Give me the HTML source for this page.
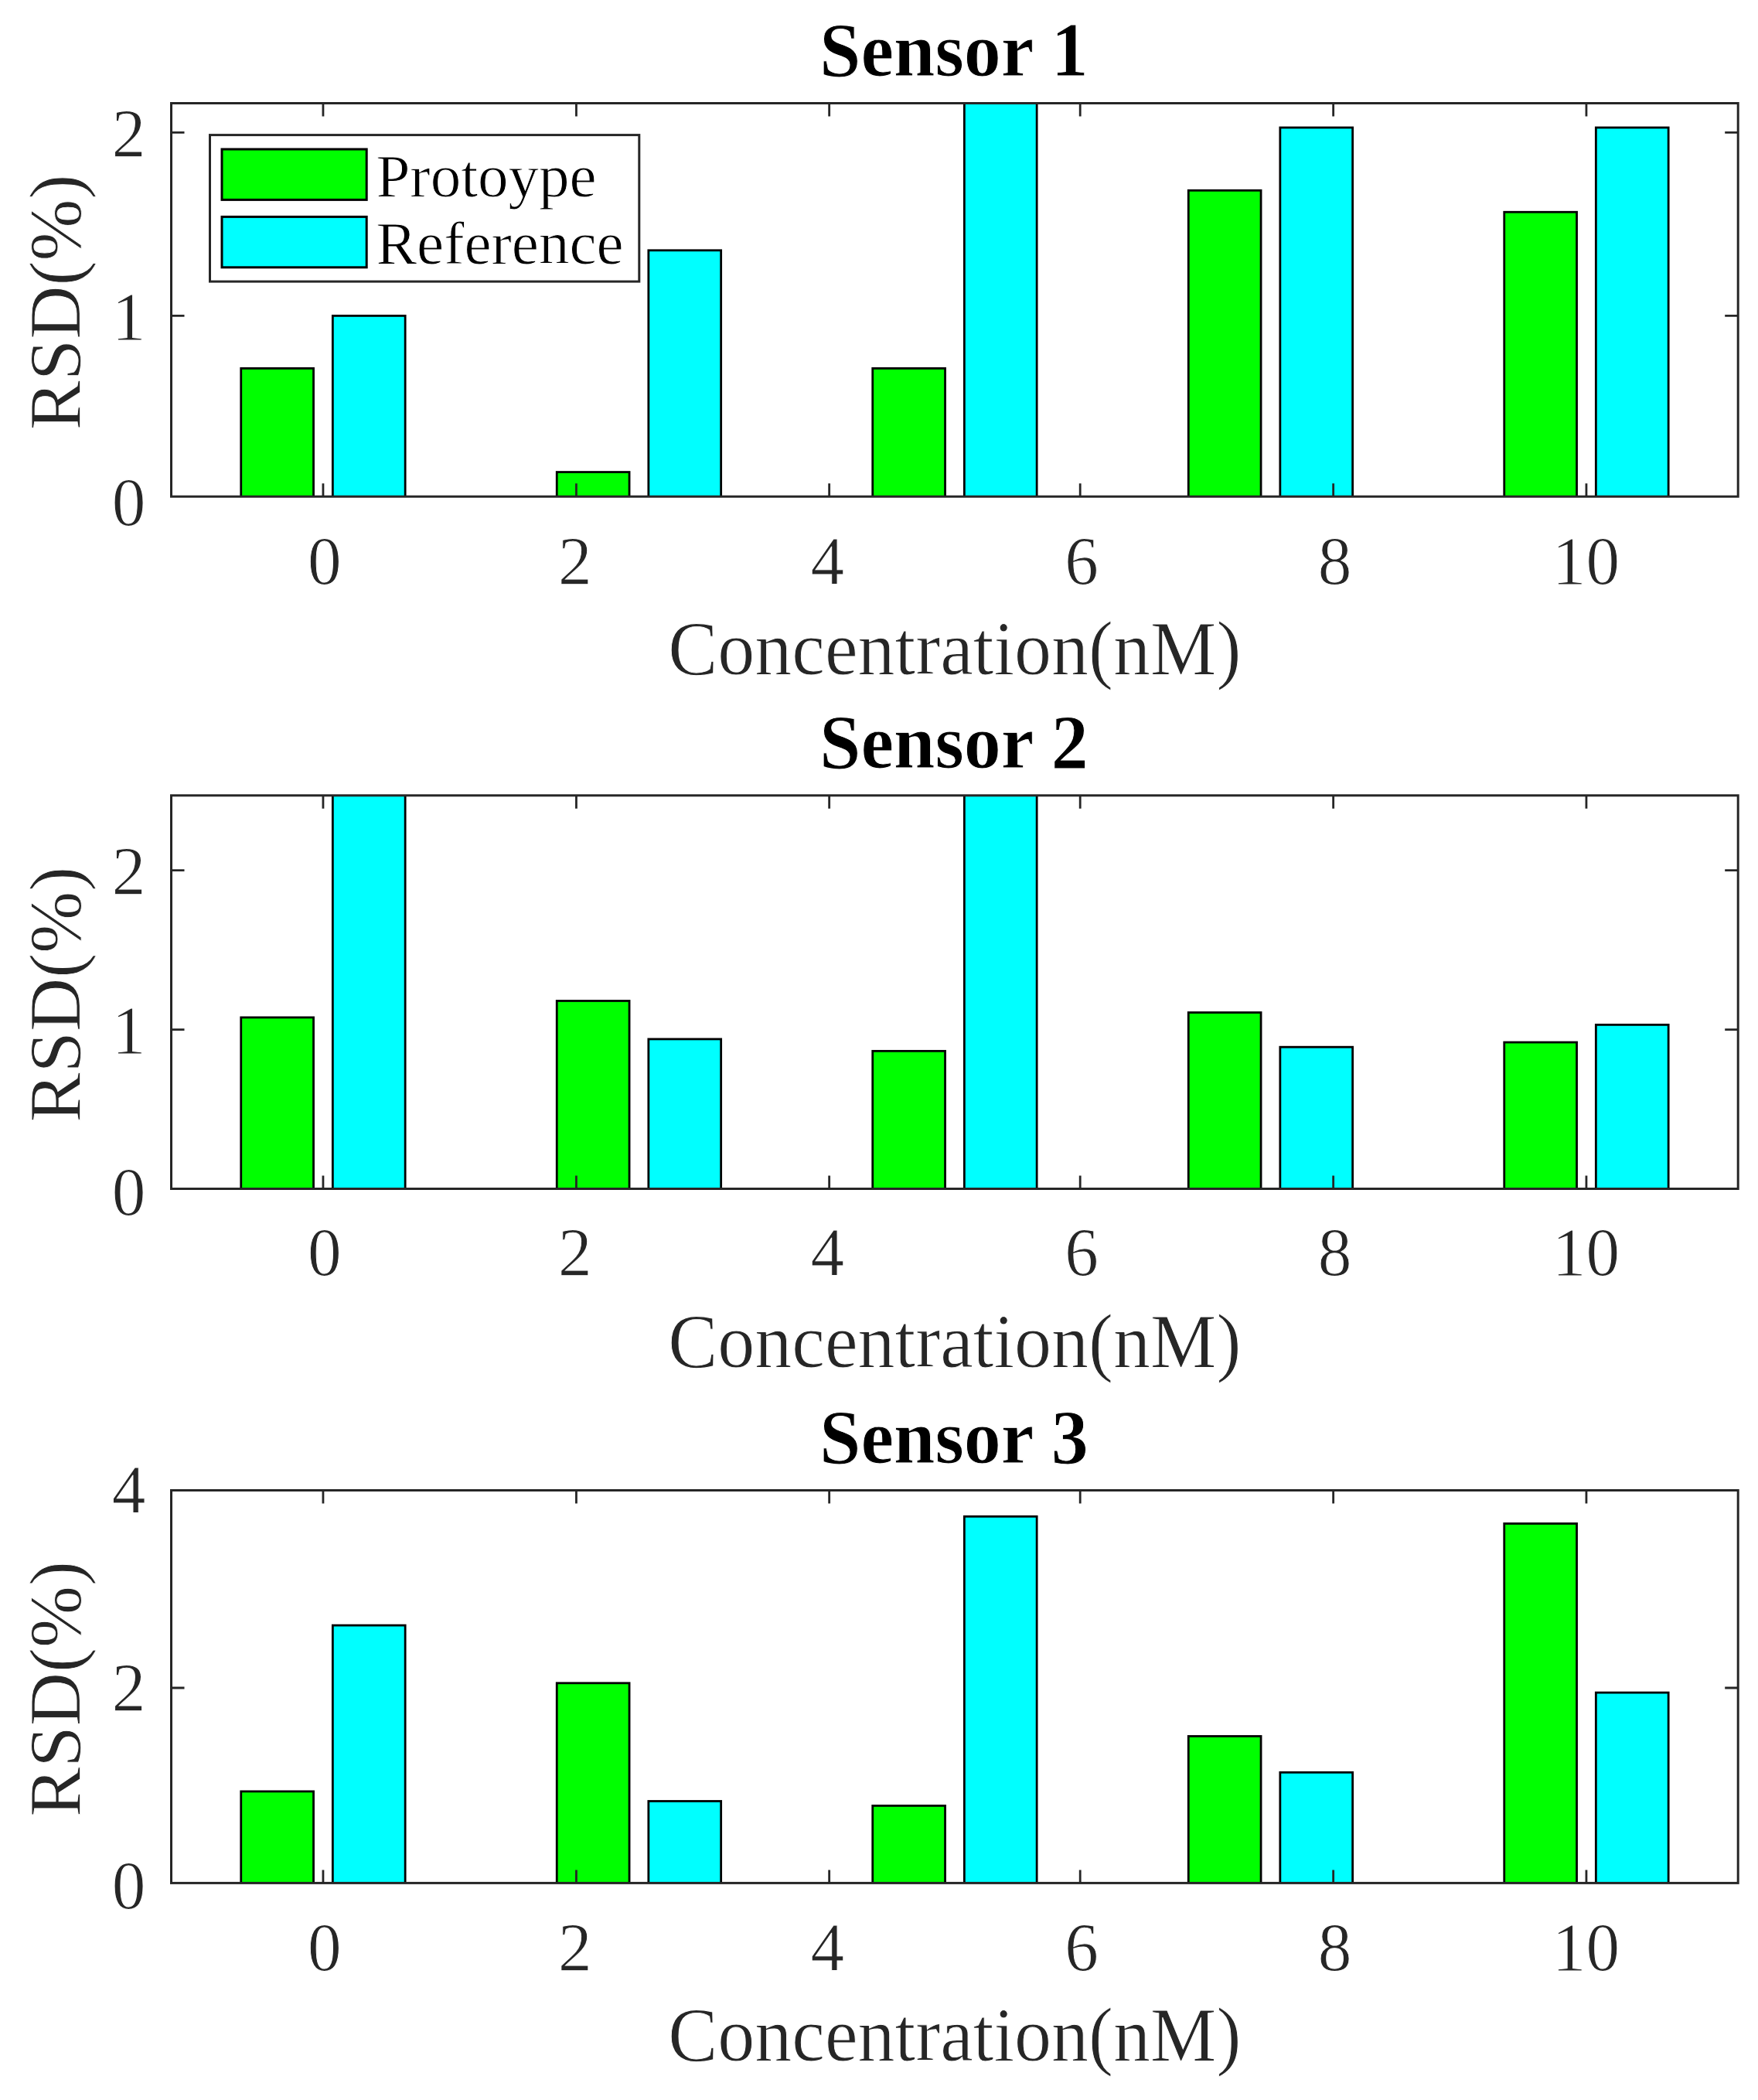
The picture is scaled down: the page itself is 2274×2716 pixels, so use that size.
<!DOCTYPE html>
<html lang="en"><head><meta charset="utf-8"><title>RSD by sensor</title>
<style>
html,body{margin:0;padding:0;background:#fff}
body{width:2274px;height:2716px;overflow:hidden}
svg{display:block}
text{font-family:"Liberation Serif","Times New Roman",Times,serif;fill:#262626;stroke:#fff;stroke-width:0.9px}
.t{font-size:87.3px}
.l{font-size:96px}
.h{font-size:96px;font-weight:bold;fill:#000}
.g{font-size:79px;fill:#000}
</style></head><body>
<svg width="2274" height="2716" viewBox="0 0 2274 2716">
<rect width="2274" height="2716" fill="#fff"/>
<g>
<clipPath id="cp0"><rect x="221.5" y="133.5" width="2026.7" height="508.7"/></clipPath>
<g clip-path="url(#cp0)" stroke="#000" stroke-width="2.8">
<rect x="311.75" y="476.42" width="93.8" height="175.78" fill="#00ff00"/>
<rect x="430.35" y="408.4" width="93.8" height="243.8" fill="#00ffff"/>
<rect x="720.25" y="610.56" width="93.8" height="41.64" fill="#00ff00"/>
<rect x="838.85" y="323.79" width="93.8" height="328.41" fill="#00ffff"/>
<rect x="1128.75" y="476.42" width="93.8" height="175.78" fill="#00ff00"/>
<rect x="1247.35" y="-65.6" width="93.8" height="717.8" fill="#00ffff"/>
<rect x="1537.25" y="246.29" width="93.8" height="405.91" fill="#00ff00"/>
<rect x="1655.85" y="165" width="93.8" height="487.2" fill="#00ffff"/>
<rect x="1945.75" y="274.26" width="93.8" height="377.94" fill="#00ff00"/>
<rect x="2064.35" y="165" width="93.8" height="487.2" fill="#00ffff"/>
</g>
<path d="M417.95 642.2v-17M417.95 133.5v17M745.45 642.2v-17M745.45 133.5v17M1072.65 642.2v-17M1072.65 133.5v17M1397.2 642.2v-17M1397.2 133.5v17M1724.65 642.2v-17M1724.65 133.5v17M2051.95 642.2v-17M2051.95 133.5v17M221.5 408.4h17M2248.2 408.4h-17M221.5 171.4h17M2248.2 171.4h-17" stroke="#262626" stroke-width="2.8" fill="none"/>
<rect x="221.5" y="133.5" width="2026.7" height="508.7" fill="none" stroke="#262626" stroke-width="3"/>
<text class="h" transform="translate(1233.85 97.5) scale(1 1.03)" text-anchor="middle">Sensor 1</text>
<text class="t" transform="translate(419.95 755) scale(1 1.03)" text-anchor="middle">0</text>
<text class="t" transform="translate(743.75 755) scale(1 1.03)" text-anchor="middle">2</text>
<text class="t" transform="translate(1070.25 755) scale(1 1.03)" text-anchor="middle">4</text>
<text class="t" transform="translate(1399.15 755) scale(1 1.03)" text-anchor="middle">6</text>
<text class="t" transform="translate(1726.65 755) scale(1 1.03)" text-anchor="middle">8</text>
<text class="t" transform="translate(2051.45 755) scale(1 1.03)" text-anchor="middle">10</text>
<text class="t" transform="translate(188.5 678.5) scale(1 1.03)" text-anchor="end">0</text>
<text class="t" transform="translate(188.5 439) scale(1 1.03)" text-anchor="end">1</text>
<text class="t" transform="translate(188.5 202) scale(1 1.03)" text-anchor="end">2</text>
<text class="l" transform="translate(1234.85 872.2) scale(1 1.03)" text-anchor="middle">Concentration(nM)</text>
<text class="l" transform="translate(104 390.85) rotate(-90)" text-anchor="middle">RSD(%)</text>
</g>
<g>
<clipPath id="cp1"><rect x="221.5" y="1028.8" width="2026.7" height="508.7"/></clipPath>
<g clip-path="url(#cp1)" stroke="#000" stroke-width="2.8">
<rect x="311.75" y="1315.9" width="93.8" height="231.6" fill="#00ff00"/>
<rect x="430.35" y="919.65" width="93.8" height="627.85" fill="#00ffff"/>
<rect x="720.25" y="1294.48" width="93.8" height="253.02" fill="#00ff00"/>
<rect x="838.85" y="1343.91" width="93.8" height="203.59" fill="#00ffff"/>
<rect x="1128.75" y="1359.35" width="93.8" height="188.15" fill="#00ff00"/>
<rect x="1247.35" y="919.65" width="93.8" height="627.85" fill="#00ffff"/>
<rect x="1537.25" y="1309.51" width="93.8" height="237.99" fill="#00ff00"/>
<rect x="1655.85" y="1354.2" width="93.8" height="193.3" fill="#00ffff"/>
<rect x="1945.75" y="1348.03" width="93.8" height="199.47" fill="#00ff00"/>
<rect x="2064.35" y="1325.37" width="93.8" height="222.13" fill="#00ffff"/>
</g>
<path d="M417.95 1537.5v-17M417.95 1028.8v17M745.45 1537.5v-17M745.45 1028.8v17M1072.65 1537.5v-17M1072.65 1028.8v17M1397.2 1537.5v-17M1397.2 1028.8v17M1724.65 1537.5v-17M1724.65 1028.8v17M2051.95 1537.5v-17M2051.95 1028.8v17M221.5 1331.55h17M2248.2 1331.55h-17M221.5 1125.6h17M2248.2 1125.6h-17" stroke="#262626" stroke-width="2.8" fill="none"/>
<rect x="221.5" y="1028.8" width="2026.7" height="508.7" fill="none" stroke="#262626" stroke-width="3"/>
<text class="h" transform="translate(1233.85 992.8) scale(1 1.03)" text-anchor="middle">Sensor 2</text>
<text class="t" transform="translate(419.95 1648.8) scale(1 1.03)" text-anchor="middle">0</text>
<text class="t" transform="translate(743.75 1648.8) scale(1 1.03)" text-anchor="middle">2</text>
<text class="t" transform="translate(1070.25 1648.8) scale(1 1.03)" text-anchor="middle">4</text>
<text class="t" transform="translate(1399.15 1648.8) scale(1 1.03)" text-anchor="middle">6</text>
<text class="t" transform="translate(1726.65 1648.8) scale(1 1.03)" text-anchor="middle">8</text>
<text class="t" transform="translate(2051.45 1648.8) scale(1 1.03)" text-anchor="middle">10</text>
<text class="t" transform="translate(188.5 1570.6) scale(1 1.03)" text-anchor="end">0</text>
<text class="t" transform="translate(188.5 1362.15) scale(1 1.03)" text-anchor="end">1</text>
<text class="t" transform="translate(188.5 1156.2) scale(1 1.03)" text-anchor="end">2</text>
<text class="l" transform="translate(1234.85 1767.5) scale(1 1.03)" text-anchor="middle">Concentration(nM)</text>
<text class="l" transform="translate(104 1286.15) rotate(-90)" text-anchor="middle">RSD(%)</text>
</g>
<g>
<clipPath id="cp2"><rect x="221.5" y="1927.5" width="2026.7" height="507.9"/></clipPath>
<g clip-path="url(#cp2)" stroke="#000" stroke-width="2.8">
<rect x="311.75" y="2316.9" width="93.8" height="128.5" fill="#00ff00"/>
<rect x="430.35" y="2102.1" width="93.8" height="343.3" fill="#00ffff"/>
<rect x="720.25" y="2176.8" width="93.8" height="268.6" fill="#00ff00"/>
<rect x="838.85" y="2329.5" width="93.8" height="115.9" fill="#00ffff"/>
<rect x="1128.75" y="2335.4" width="93.8" height="110" fill="#00ff00"/>
<rect x="1247.35" y="1961.3" width="93.8" height="484.1" fill="#00ffff"/>
<rect x="1537.25" y="2245.5" width="93.8" height="199.9" fill="#00ff00"/>
<rect x="1655.85" y="2292.3" width="93.8" height="153.1" fill="#00ffff"/>
<rect x="1945.75" y="1970.5" width="93.8" height="474.9" fill="#00ff00"/>
<rect x="2064.35" y="2189.1" width="93.8" height="256.3" fill="#00ffff"/>
</g>
<path d="M417.95 2435.4v-17M417.95 1927.5v17M745.45 2435.4v-17M745.45 1927.5v17M1072.65 2435.4v-17M1072.65 1927.5v17M1397.2 2435.4v-17M1397.2 1927.5v17M1724.65 2435.4v-17M1724.65 1927.5v17M2051.95 2435.4v-17M2051.95 1927.5v17M221.5 2183h17M2248.2 2183h-17" stroke="#262626" stroke-width="2.8" fill="none"/>
<rect x="221.5" y="1927.5" width="2026.7" height="507.9" fill="none" stroke="#262626" stroke-width="3"/>
<text class="h" transform="translate(1233.85 1891.5) scale(1 1.03)" text-anchor="middle">Sensor 3</text>
<text class="t" transform="translate(419.95 2548.2) scale(1 1.03)" text-anchor="middle">0</text>
<text class="t" transform="translate(743.75 2548.2) scale(1 1.03)" text-anchor="middle">2</text>
<text class="t" transform="translate(1070.25 2548.2) scale(1 1.03)" text-anchor="middle">4</text>
<text class="t" transform="translate(1399.15 2548.2) scale(1 1.03)" text-anchor="middle">6</text>
<text class="t" transform="translate(1726.65 2548.2) scale(1 1.03)" text-anchor="middle">8</text>
<text class="t" transform="translate(2051.45 2548.2) scale(1 1.03)" text-anchor="middle">10</text>
<text class="t" transform="translate(188.5 2468) scale(1 1.03)" text-anchor="end">0</text>
<text class="t" transform="translate(188.5 2211.55) scale(1 1.03)" text-anchor="end">2</text>
<text class="t" transform="translate(188.5 1955.8) scale(1 1.03)" text-anchor="end">4</text>
<text class="l" transform="translate(1234.85 2665.4) scale(1 1.03)" text-anchor="middle">Concentration(nM)</text>
<text class="l" transform="translate(104 2184.45) rotate(-90)" text-anchor="middle">RSD(%)</text>
</g>
<g>
<rect x="271.5" y="174.6" width="555.3" height="189.5" fill="#fff" stroke="#262626" stroke-width="3"/>
<rect x="287" y="193" width="187.2" height="65.4" fill="#00ff00" stroke="#000" stroke-width="3"/>
<rect x="287" y="280.4" width="187.2" height="65.4" fill="#00ffff" stroke="#000" stroke-width="3"/>
<text class="g" x="486.4" y="253.6">Protoype</text>
<text class="g" x="486.4" y="341.4">Reference</text>
</g>
</svg>
</body></html>
